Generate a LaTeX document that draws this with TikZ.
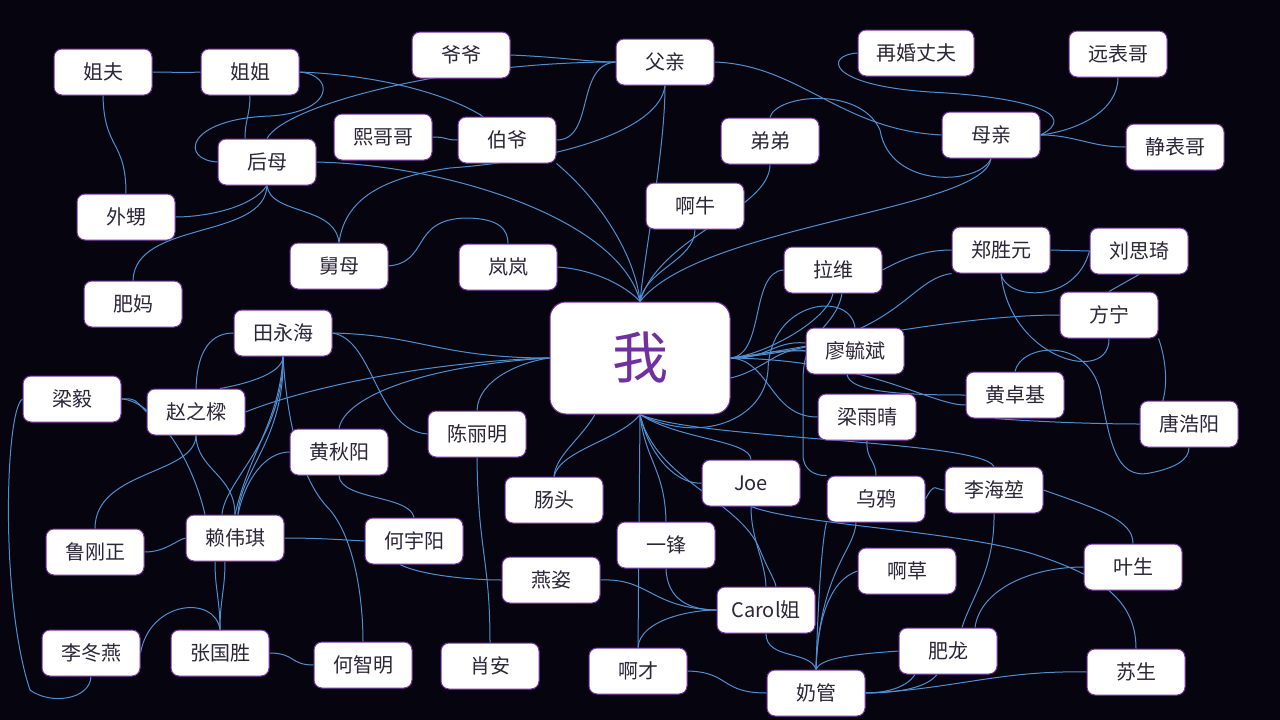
\documentclass[tikz,border=0pt]{standalone}
\usepackage{fontspec}
\newfontfamily\cjk{Noto Sans CJK SC}
\definecolor{bgc}{HTML}{06040F}
\definecolor{edgec}{HTML}{4F8FCF}
\definecolor{bord}{HTML}{7A34A8}
\definecolor{txt}{HTML}{2B2638}
\definecolor{wocol}{HTML}{7030A0}
\pgfdeclarelayer{back}\pgfdeclarelayer{mid}\pgfsetlayers{back,mid,main}
\tikzset{
  box/.style={draw=bord, line width=1pt, fill=white, rounded corners=8pt,
    minimum width=98pt, minimum height=46pt, inner sep=0pt, text=txt,
    font=\cjk\fontsize{20pt}{24pt}\selectfont},
  bigbox/.style={box, minimum width=180pt, minimum height=112pt, rounded corners=16pt,
    text=wocol, font=\cjk\fontsize{56pt}{60pt}\selectfont},
  link/.style={draw=edgec, line width=1pt}
}
\begin{document}
\begin{tikzpicture}[x=1pt,y=-1pt]
\begin{pgfonlayer}{back}
\fill[bgc] (0,0) rectangle (1280,720);
\end{pgfonlayer}
\useasboundingbox (0,0) rectangle (1280,720);
% nodes
\node[box] (jiefu) at (103,72) {姐夫};
\node[box] (jiejie) at (250,72) {姐姐};
\node[box] (yeye) at (461,55) {爷爷};
\node[box] (fuqin) at (665,62) {父亲};
\node[box, minimum width=116pt] (zaihun) at (916,53) {再婚丈夫};
\node[box] (yuan) at (1118,54) {远表哥};
\node[box] (xi) at (383,137) {熙哥哥};
\node[box] (boye) at (507,140) {伯爷};
\node[box] (didi) at (770,141) {弟弟};
\node[box] (muqin) at (991,135) {母亲};
\node[box] (jing) at (1175,147) {静表哥};
\node[box] (houmu) at (267,162) {后母};
\node[box] (waisheng) at (126,217) {外甥};
\node[box] (aniu) at (695,206) {啊牛};
\node[box] (jiumu) at (339,266) {舅母};
\node[box] (lanlan) at (508,267) {岚岚};
\node[box] (lawei) at (833,270) {拉维};
\node[box] (zheng) at (1001,250) {郑胜元};
\node[box] (liu) at (1139,251) {刘思琦};
\node[box] (feima) at (133,304) {肥妈};
\node[box] (fangning) at (1109,315) {方宁};
\node[box] (tian) at (283,333) {田永海};
\node[box] (liao) at (855,351) {廖毓斌};
\node[box] (liangyi) at (72,399) {梁毅};
\node[box] (zhao) at (196,412) {赵之樑};
\node[box] (huangzj) at (1015,395) {黄卓基};
\node[box] (liangyq) at (867,417) {梁雨晴};
\node[box] (tang) at (1189,424) {唐浩阳};
\node[box] (chen) at (477,434) {陈丽明};
\node[box] (huangqy) at (339,452) {黄秋阳};
\node[box] (joe) at (751,483) {Joe};
\node[box] (lihk) at (994,490) {李海堃};
\node[box] (changtou) at (554,500) {肠头};
\node[box] (wuya) at (876,499) {乌鸦};
\node[box] (lu) at (95,552) {鲁刚正};
\node[box] (lai) at (235,538) {赖伟琪};
\node[box] (heyy) at (414,541) {何宇阳};
\node[box] (yifeng) at (666,545) {一锋};
\node[box] (yesheng) at (1133,567) {叶生};
\node[box] (yanzi) at (551,580) {燕姿};
\node[box] (acao) at (907,571) {啊草};
\node[box] (carol) at (766,610) {Carol姐};
\node[box] (lidy) at (91,653) {李冬燕};
\node[box] (zhang) at (220,653) {张国胜};
\node[box] (hezm) at (363,665) {何智明};
\node[box] (xiaoan) at (490,666) {肖安};
\node[box] (acai) at (638,671) {啊才};
\node[box] (feilong) at (948,651) {肥龙};
\node[box] (susheng) at (1136,672) {苏生};
\node[box] (naiguan) at (816,693) {奶管};
\node[bigbox] (wo) at (640,358) {我};
% edges
\begin{pgfonlayer}{mid}
\draw[link] (jiefu.east) .. controls (175,72) and (180,73) .. (jiejie.west);
\draw[link] (jiefu.south) .. controls (104,150) and (126,140) .. (waisheng.north);
\draw[link] (jiejie.south) .. controls (250,115) and (245,120) .. ([xshift=-22pt]houmu.north);
\draw[link] (jiejie.east) .. controls (335,75) and (335,112) .. (270,116) .. controls (185,119) and (180,160) .. (houmu.west);
\draw[link] (jiejie.east) .. controls (380,75) and (450,95) .. ([xshift=-24pt]boye.north);
\draw[link] (houmu.north) .. controls (285,105) and (450,62) .. (fuqin.west);
\draw[link] (yeye.east) .. controls (560,57) and (590,62) .. (fuqin.west);
\draw[link] (xi.east) .. controls (448,137) and (444,140) .. (boye.west);
\draw[link] (boye.east) .. controls (595,140) and (575,65) .. (fuqin.west);
\draw[link] (jiumu.north) .. controls (345,200) and (380,178) .. (450,168) .. controls (560,160) and (660,130) .. (fuqin.south);
\draw[link] (boye.south east) .. controls (600,200) and (635,255) .. (wo.north);
\draw[link] (fuqin.south) .. controls (665,150) and (645,250) .. (wo.north);
\draw[link] (fuqin.east) .. controls (800,65) and (840,130) .. (muqin.west);
\draw[link] (didi.north) .. controls (775,95) and (860,85) .. (880,130) .. controls (890,190) and (980,185) .. (muqin.south);
\draw[link] (zaihun.west) .. controls (825,55) and (825,85) .. (930,92) .. controls (1030,97) and (1080,115) .. (muqin.east);
\draw[link] (muqin.east) .. controls (1080,130) and (1118,110) .. (yuan.south);
\draw[link] (muqin.east) .. controls (1075,135) and (1090,147) .. (jing.west);
\draw[link] (muqin.south) .. controls (985,210) and (700,225) .. (wo.north);
\draw[link] (didi.south) .. controls (770,210) and (660,235) .. (wo.north);
\draw[link] (aniu.south) .. controls (695,260) and (645,270) .. (wo.north);
\draw[link] (houmu.east) .. controls (450,165) and (620,220) .. (wo.north);
\draw[link] (houmu.south) .. controls (250,210) and (200,217) .. (waisheng.east);
\draw[link] (houmu.south) .. controls (265,240) and (135,220) .. (feima.north);
\draw[link] (houmu.south) .. controls (270,215) and (335,205) .. (jiumu.north);
\draw[link] (jiumu.east) .. controls (430,262) and (410,220) .. (465,218) .. controls (500,218) and (508,230) .. (lanlan.north);
\draw[link] (lanlan.east) .. controls (600,270) and (630,290) .. (wo.north);
% right cluster
\draw[link] (lawei.east) .. controls (910,255) and (930,250) .. (zheng.west);
\draw[link] (zheng.east) .. controls (1070,250) and (1070,251) .. (liu.west);
\draw[link] (zheng.south) .. controls (1005,300) and (1075,305) .. (liu.west);
\draw[link] (zheng.south) .. controls (1010,360) and (1110,385) .. (fangning.south);
\draw[link] (huangzj.north) .. controls (1020,345) and (1085,335) .. (1100,390) .. controls (1110,440) and (1115,480) .. (1150,473) .. controls (1175,468) and (1189,460) .. (tang.south);
\draw[link] (fangning.south east) .. controls (1170,370) and (1170,420) .. (tang.west);
\draw[link] ([xshift=-20pt]huangzj.south) .. controls (1040,422) and (1100,424) .. (tang.west);
\draw[link] (liu.south) -- (fangning.north);
\draw[link] (wo.east) .. controls (800,350) and (950,315) .. (fangning.west);
\draw[link] (wo.east) .. controls (900,345) and (905,280) .. (zheng.south west);
\draw[link] (wo.east) .. controls (870,360) and (930,405) .. ([yshift=-10pt]huangzj.west);
\draw[link] ([xshift=-8pt]liao.south) .. controls (850,392) and (900,395) .. (huangzj.west);
\draw[link] (wo.east) .. controls (760,355) and (770,350) .. (liao.west);
\draw[link] (wo.east) .. controls (765,360) and (775,340) .. ([yshift=8pt]liao.west);
\draw[link] ([yshift=-20pt]wo.east) .. controls (765,370) and (780,345) .. (liao.west);
\draw[link] (wo.east) .. controls (765,355) and (750,272) .. (lawei.west);
\draw[link] (lawei.south) .. controls (828,320) and (765,355) .. (wo.east);
\draw[link] ([xshift=9pt]lawei.south) .. controls (835,330) and (803,330) .. (803,380) -- (803,455) .. controls (803,470) and (815,476) .. (wuya.north west);
\draw[link] (wo.east) .. controls (770,360) and (770,417) .. (liangyq.west);
\draw[link] (wo.south) .. controls (700,445) and (765,420) .. (768,370) .. controls (770,300) and (850,290) .. (liao.north);
\draw[link] (liangyq.south) .. controls (866,460) and (876,460) .. (wuya.north);
\draw[link] (wuya.east) .. controls (935,481) and (935,490) .. (lihk.west);
% bottom centre
\draw[link] (wo.south) -- (acai.north);
\draw[link] (wo.south) .. controls (645,460) and (665,470) .. (yifeng.north);
\draw[link] (wo.south) .. controls (650,460) and (680,485) .. (joe.west);
\draw[link] (wo.south) .. controls (655,480) and (740,500) .. (760,550) .. controls (768,570) and (775,580) .. ([xshift=10pt]carol.north);
\draw[link] (wo.south) .. controls (680,440) and (750,440) .. (joe.north);
\draw[link] (wo.south) .. controls (700,440) and (980,440) .. (lihk.north);
\draw[link] (wo.south) .. controls (620,440) and (560,450) .. (changtou.north);
\draw[link] ([xshift=-45pt]wo.south) .. controls (580,440) and (556,455) .. (changtou.north);
\draw[link] (joe.south) .. controls (751,540) and (765,560) .. (carol.north);
\draw[link] (joe.south) .. controls (800,525) and (950,530) .. (1030,553) .. controls (1100,575) and (1136,600) .. (susheng.north);
\draw[link] (yanzi.east) .. controls (650,578) and (650,608) .. (carol.west);
\draw[link] (yifeng.south) .. controls (667,600) and (690,610) .. (carol.west);
\draw[link] (acai.north) .. controls (640,620) and (690,610) .. (carol.west);
\draw[link] (acai.east) .. controls (730,672) and (720,693) .. (naiguan.west);
\draw[link] (carol.south) .. controls (766,660) and (810,650) .. (naiguan.north);
\draw[link] (wuya.south west) .. controls (822,540) and (818,600) .. (naiguan.north);
\draw[link] ([xshift=-20pt]wuya.south) .. controls (855,550) and (820,570) .. (naiguan.north);
\draw[link] (acao.west) .. controls (830,580) and (817,620) .. (naiguan.north);
\draw[link] (feilong.west) .. controls (840,655) and (820,660) .. (naiguan.north);
\draw[link] (lihk.south) .. controls (995,570) and (970,600) .. ([xshift=14pt]feilong.north);
\draw[link] (yesheng.west) .. controls (1030,567) and (980,590) .. ([xshift=27pt]feilong.north);
\draw[link] (lihk.east) .. controls (1100,510) and (1133,520) .. (yesheng.north);
\draw[link] (susheng.west) .. controls (1000,670) and (950,690) .. (naiguan.east);
\draw[link] ([xshift=-33pt]feilong.south) .. controls (905,690) and (880,693) .. (naiguan.east);
\draw[link] ([xshift=-11pt]feilong.south) .. controls (925,690) and (890,693) .. (naiguan.east);
% left cluster
\draw[link] (tian.east) .. controls (420,335) and (440,358) .. (wo.west);
\draw[link] (tian.east) .. controls (375,340) and (375,430) .. (chen.west);
\draw[link] (tian.west) .. controls (205,333) and (197,360) .. (zhao.north);
\draw[link] (tian.south) .. controls (283,375) and (240,385) .. ([xshift=24pt]zhao.north);
\draw[link] (tian.south) .. controls (280,420) and (250,450) .. (lai.north);
\draw[link] (tian.south) .. controls (285,440) and (240,470) .. ([xshift=3pt]lai.north);
\draw[link] (tian.south) .. controls (283,440) and (225,480) .. ([xshift=-13pt]lai.north);
\draw[link] (tian.south) .. controls (287,420) and (300,480) .. (330,510) .. controls (355,540) and (363,600) .. (hezm.north);
\draw[link] (zhao.east) .. controls (300,390) and (420,362) .. (wo.west);
\draw[link] (huangqy.north) .. controls (345,395) and (430,365) .. (wo.west);
\draw[link] (chen.north) .. controls (478,380) and (520,362) .. (wo.west);
\draw[link] (chen.south) .. controls (478,550) and (490,560) .. (xiaoan.north);
\draw[link] (huangqy.west) .. controls (265,452) and (245,480) .. ([xshift=3pt]lai.north);
\draw[link] (huangqy.south) .. controls (340,500) and (410,495) .. (heyy.north);
\draw[link] (zhao.south) .. controls (195,475) and (95,470) .. (lu.north);
\draw[link] (zhao.south) .. controls (197,470) and (235,475) .. (lai.north);
\draw[link] (liangyi.east) .. controls (135,398) and (135,400) .. (zhao.west);
\draw[link] (liangyi.east) .. controls (150,400) and (190,450) .. ([xshift=-30pt]lai.north);
\draw[link] (liangyi.west) .. controls (5,410) and (0,600) .. (30,690) .. controls (50,705) and (90,700) .. (lidy.south);
\draw[link] (lu.east) .. controls (165,552) and (175,541) .. (lai.west);
\draw[link] (lai.east) .. controls (320,538) and (345,540) .. (heyy.west);
\draw[link] ([xshift=-20pt]lai.south) .. controls (215,590) and (220,600) .. (zhang.north);
\draw[link] ([xshift=-10pt]lai.south) .. controls (225,590) and (220,600) .. (zhang.north);
\draw[link] (zhang.north) .. controls (215,595) and (150,600) .. (lidy.east);
\draw[link] (zhang.east) .. controls (295,653) and (290,665) .. (hezm.west);
\draw[link] ([xshift=-14pt]heyy.south) .. controls (420,575) and (470,580) .. (yanzi.west);
\end{pgfonlayer}
\end{tikzpicture}
\end{document}
